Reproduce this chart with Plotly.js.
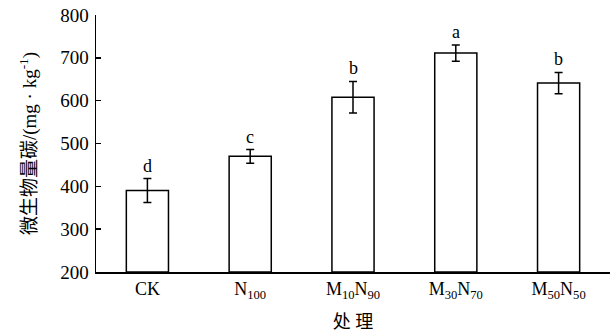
<!DOCTYPE html>
<html>
<head>
<meta charset="utf-8">
<script src="https://cdn.plot.ly/plotly-3.0.1.min.js"></script>
<style>html,body{margin:0;padding:0;background:#fff;}#chart{width:613px;height:336px;}</style>
</head>
<body>
<div id="chart"></div>
<script>
const categories = ['CK', 'N<sub>100</sub>', 'M<sub>10</sub>N<sub>90</sub>', 'M<sub>30</sub>N<sub>70</sub>', 'M<sub>50</sub>N<sub>50</sub>'];
const values = [390, 470, 608, 711, 641];
const errors = [28, 16, 37, 19, 25];
const letters = ['d', 'c', 'b', 'a', 'b'];
const yTicks = [200, 300, 400, 500, 600, 700, 800];

const serif = 'Liberation Serif, Times New Roman, serif';
const cjk = 'Liberation Serif, Noto Sans CJK SC, serif';

const trace = {
  type: 'bar',
  x: categories,
  y: values.map(v => v - 200),
  base: 200,
  width: 0.41,
  marker: {color: '#ffffff', line: {color: '#000000', width: 1.5}},
  error_y: {type: 'data', array: errors, visible: true, color: '#000000', thickness: 1.5, width: 4},
  hoverinfo: 'skip'
};

const annotations = categories.map((c, i) => ({
  x: c, y: values[i] + errors[i], xref: 'x', yref: 'y',
  text: letters[i], showarrow: false, yanchor: 'bottom', yshift: 1,
  font: {family: serif, size: 18, color: '#000'}
}));

const layout = {
  width: 613, height: 336,
  margin: {l: 96, r: 3, t: 15, b: 64},
  paper_bgcolor: '#fff', plot_bgcolor: '#fff',
  showlegend: false,
  bargap: 0.59,
  xaxis: {
    type: 'category', range: [-0.5, 4.5],
    showline: true, linecolor: '#000', linewidth: 1.5,
    ticks: '', showgrid: false, zeroline: false,
    tickfont: {family: serif, size: 18, color: '#000'},
    title: {text: '处 理', font: {family: cjk, size: 18, color: '#000'}, standoff: 14}
  },
  yaxis: {
    range: [200, 800], tickvals: yTicks,
    showline: true, linecolor: '#000', linewidth: 1.5,
    ticks: 'inside', ticklen: 5, tickwidth: 1.5, tickcolor: '#000',
    showgrid: false, zeroline: false,
    tickfont: {family: serif, size: 19, color: '#000'},
    ticklabelstandoff: 2,
    title: {text: '微生物量碳/(mg · kg<sup>-1</sup>)', font: {family: cjk, size: 19, color: '#000'}, standoff: 18}
  },
  annotations: annotations
};

Plotly.newPlot('chart', [trace], layout, {staticPlot: true, displayModeBar: false});
</script>
</body>
</html>
